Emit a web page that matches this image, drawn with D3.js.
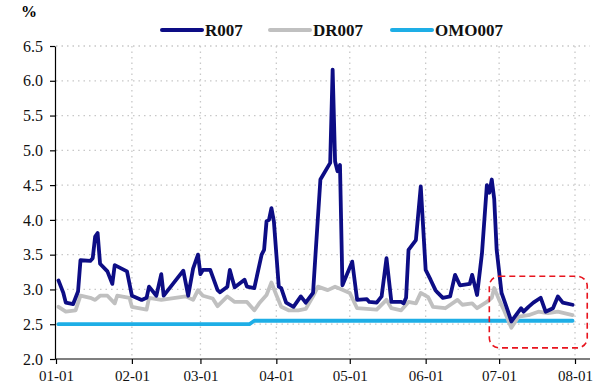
<!DOCTYPE html>
<html>
<head>
<meta charset="utf-8">
<script src="https://cdn.jsdelivr.net/npm/d3@7"></script>
<style>
	body { margin: 0; background: #fff; }
	svg text { font-family: "Liberation Serif", "DejaVu Serif", "Times New Roman", serif !important; }
</style>
</head>
<body>
<div id="chart"></div>
<script>
// R007 (date, %)
const r007Dates = ["01-02","01-04","01-05","01-08","01-10","01-11","01-15","01-16","01-17","01-18","01-19","01-22","01-24","01-25","01-30",
	"02-01","02-05","02-07","02-08","02-11","02-13","02-14","02-22","02-24","02-26","02-28",
	"03-01","03-02","03-05","03-08","03-09","03-12","03-13","03-14","03-15","03-19","03-20","03-23","03-26","03-27","03-28","03-29","03-30","03-31",
	"04-02","04-03","04-05","04-08","04-11","04-13","04-16","04-17","04-19","04-23","04-24","04-25","04-26","04-27","04-28",
	"05-02","05-04","05-08","05-09","05-12","05-14","05-16","05-18","05-22","05-23","05-24","05-25","05-28","05-30",
	"06-01","06-03","06-05","06-06","06-08","06-11","06-13","06-15","06-19","06-20","06-22","06-24","06-26","06-27","06-28","06-29","06-30",
	"07-02","07-04","07-06","07-10","07-11","07-13","07-15","07-18","07-20","07-23","07-25","07-27","07-31"]
const r007Values = [3.13,2.95,2.81,2.79,2.97,3.42,3.41,3.45,3.76,3.81,3.37,3.26,3.08,3.35,3.26,
	2.91,2.85,2.88,3.04,2.91,3.22,2.91,3.27,2.91,3.30,3.50,
	3.22,3.28,3.28,2.99,2.96,3.04,3.28,3.15,3.03,3.14,3.04,3.02,3.50,3.57,3.98,4.00,4.17,3.98,
	3.04,3.02,2.81,2.75,2.90,2.81,2.95,3.50,4.58,4.82,6.16,4.84,4.70,4.79,3.06,
	3.40,2.85,2.86,2.82,2.81,2.90,3.45,2.82,2.82,2.80,2.88,3.57,3.71,4.48,
	3.28,3.14,2.99,2.95,2.88,2.90,3.21,3.06,3.08,3.21,2.92,3.52,4.50,4.39,4.58,4.30,3.57,
	2.95,2.75,2.54,2.73,2.68,2.75,2.81,2.88,2.68,2.73,2.90,2.81,2.78]

// DR007
const dr007Dates = ["01-02","01-05","01-09","01-11","01-15","01-17","01-19","01-22","01-25","01-26","01-31",
	"02-01","02-07","02-08","02-13","02-23","02-26","02-28",
	"03-02","03-06","03-08","03-12","03-15","03-20","03-23","03-25","03-28","03-30",
	"04-01","04-03","04-06","04-10","04-13","04-16","04-18","04-22","04-25","04-27",
	"05-01","05-04","05-12","05-16","05-18","05-22","05-25","05-28","05-30",
	"06-02","06-04","06-09","06-14","06-16","06-20","06-22","06-26","06-28","06-29",
	"07-01","07-03","07-06","07-09","07-13","07-17","07-21","07-25","07-31"]
const dr007Values = [2.75,2.68,2.70,2.91,2.88,2.85,2.91,2.91,2.80,2.91,2.88,
	2.75,2.71,2.88,2.85,2.90,2.85,2.99,
	2.91,2.87,2.76,2.90,2.82,2.82,2.70,2.80,2.92,3.10,
	2.92,2.75,2.70,2.70,2.72,2.90,3.04,2.99,3.04,3.01,
	2.95,2.73,2.71,2.85,2.73,2.70,2.82,2.80,2.95,
	2.89,2.75,2.73,2.85,2.78,2.80,2.73,2.82,2.88,3.02,
	2.85,2.70,2.45,2.61,2.63,2.68,2.66,2.68,2.63]

// OMO007
const omoDates = ["01-02","03-21","03-23","07-31"]
const omoValues = [2.50,2.50,2.55,2.55]

const yTicks = [2.0,2.5,3.0,3.5,4.0,4.5,5.0,5.5,6.0,6.5]
const xTickLabels = ["01-01","02-01","03-01","04-01","05-01","06-01","07-01","08-01"]
const seriesNames = ["R007","DR007","OMO007"]
const seriesColors = ["#0d0d85","#c0c0c0","#1eaee6"]

// highlighted area (dashed box): dates and values
const boxDates = ["06-27","08-06"]
const boxValues = [2.16,3.19]

const parse = d3.timeParse("%Y-%m-%d")
const toDate = s => parse("2018-" + s)

const width = 608, height = 389
const serif = "'Liberation Serif', 'DejaVu Serif', serif"

const svg = d3.select("#chart").append("svg")
	.attr("width", width).attr("height", height)
	.attr("font-family", serif)

const xScale = d3.scaleTime()
	.domain([toDate("01-01"), toDate("08-01")])
	.range([56, 575])
const yScale = d3.scaleLinear()
	.domain([2, 6.5])
	.range([359, 46])
const plotRight = 590

// gridlines
const grid = svg.append("g")
	.attr("stroke", "#c8c8c8")
	.attr("stroke-width", 1.3)
	.attr("stroke-dasharray", "1.5,4")
grid.selectAll(".hgrid").data(yTicks.slice(1)).join("line")
	.attr("x1", 56).attr("x2", plotRight)
	.attr("y1", d => yScale(d)).attr("y2", d => yScale(d))
grid.selectAll(".vgrid").data(xTickLabels.slice(1)).join("line")
	.attr("x1", d => xScale(toDate(d))).attr("x2", d => xScale(toDate(d)))
	.attr("y1", 46).attr("y2", 359)

// axes
const yAxis = svg.append("g")
	.attr("transform", "translate(55,0)")
	.call(d3.axisLeft(yScale).tickValues(yTicks).tickFormat(d3.format(".1f")).tickSize(5).tickSizeOuter(0))
	.attr("font-family", serif)
yAxis.select(".domain").attr("stroke", "#000").attr("stroke-width", 1.2)
yAxis.selectAll(".tick line").attr("stroke", "#000").attr("stroke-width", 1.2)
yAxis.selectAll(".tick text").attr("font-size", 16).attr("fill", "#111").attr("x", -12)

const xAxis = svg.append("g")
	.attr("transform", "translate(0,359)")
	.call(d3.axisBottom(xScale).tickValues(xTickLabels.map(toDate)).tickFormat(d3.timeFormat("%m-%d")).tickSize(5).tickSizeOuter(0))
	.attr("font-family", serif)
xAxis.select(".domain").attr("d", `M55,0H${plotRight}`).attr("stroke", "#000").attr("stroke-width", 1.2)
xAxis.selectAll(".tick line").attr("stroke", "#000").attr("stroke-width", 1.2)
xAxis.selectAll(".tick text").attr("font-size", 15).attr("fill", "#111").attr("y", 11)

// lines
const line = d3.line()
	.x(d => xScale(d.date))
	.y(d => yScale(d.value))
	.curve(d3.curveLinear)

const series = [
	{ name: seriesNames[0], dates: r007Dates, values: r007Values },
	{ name: seriesNames[1], dates: dr007Dates, values: dr007Values },
	{ name: seriesNames[2], dates: omoDates, values: omoValues },
]
const drawOrder = [2, 1, 0]
drawOrder.forEach(i => {
	const s = series[i]
	const pts = s.dates.map((d, j) => ({ date: toDate(d), value: s.values[j] }))
	svg.append("path")
		.attr("d", line(pts))
		.attr("fill", "none")
		.attr("stroke", seriesColors[i])
		.attr("stroke-width", 3.8)
		.attr("stroke-linejoin", "round")
		.attr("stroke-linecap", "round")
})

// dashed highlight box
const bx0 = xScale(toDate(boxDates[0])), bx1 = xScale(toDate(boxDates[1]))
const by0 = yScale(boxValues[1]), by1 = yScale(boxValues[0])
svg.append("rect")
	.attr("x", bx0).attr("y", by0)
	.attr("width", bx1 - bx0).attr("height", by1 - by0)
	.attr("rx", 10).attr("ry", 10)
	.attr("fill", "none")
	.attr("stroke", "#e8141e")
	.attr("stroke-width", 1.6)
	.attr("stroke-dasharray", "6,4")

// unit label
svg.append("text")
	.attr("x", 21).attr("y", 17)
	.attr("font-size", 16).attr("font-weight", "bold")
	.text("%")

// legend
const legendX = [162, 270, 392]
const legend = svg.append("g")
seriesNames.forEach((n, i) => {
	legend.append("line")
		.attr("x1", legendX[i]).attr("x2", legendX[i] + 40)
		.attr("y1", 30).attr("y2", 30)
		.attr("stroke", seriesColors[i])
		.attr("stroke-width", 4)
		.attr("stroke-linecap", "round")
	legend.append("text")
		.attr("x", legendX[i] + 43).attr("y", 36)
		.attr("font-size", 17).attr("font-weight", "bold")
		.attr("fill", "#111")
		.text(n)
})
</script>
</body>
</html>
